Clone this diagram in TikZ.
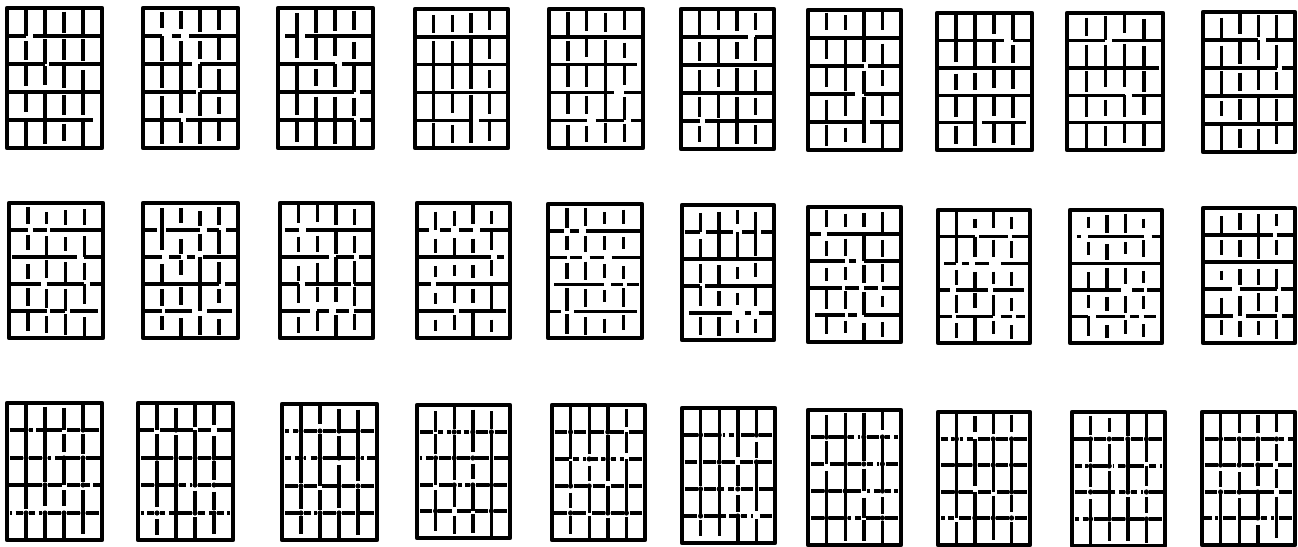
\documentclass[tikz,border=0pt]{standalone}
\tikzset{
  frame/.style={line width=4.2pt, line join=round, line cap=round},
  wall/.style={line width=3.4pt, line cap=butt},
  knot/.style={fill=black},
}
% Row-1 type: solid horizontals, vertical bars with small gaps
\newcommand\brickA[5]{%
 \pgfmathsetseed{#5}%
 \begin{scope}[shift={(#1,#2)}]
  \pgfmathsetmacro\cw{#3/5}\pgfmathsetmacro\rh{#4/5}
  \foreach \r in {1,...,4}{
    \foreach \c in {0,...,4}{
      \pgfmathsetmacro\ga{rnd<0.1 ? 4+6*rnd : 0}
      \pgfmathsetmacro\gb{rnd<0.06 ? 4+6*rnd : 0}
      \draw[wall] ({\c*\cw+\ga},{\r*\rh}) -- ({(\c+1)*\cw-\gb},{\r*\rh});
  }}
  \foreach \r in {0,...,4}{
    \foreach \c in {1,...,4}{
      \pgfmathsetmacro\ga{rnd<0.45 ? 0 : 2+4*rnd}
      \pgfmathsetmacro\gb{rnd<0.3 ? 0 : 3+5*rnd}
      \draw[wall] ({\c*\cw},{\r*\rh+\ga}) -- ({\c*\cw},{(\r+1)*\rh-\gb});
  }}
  \draw[frame] (0,0) rectangle (#3,#4);
 \end{scope}}
% Row-2 type: mostly solid horizontals with some gaps, shorter bars
\newcommand\brickB[5]{%
 \pgfmathsetseed{#5}%
 \begin{scope}[shift={(#1,#2)}]
  \pgfmathsetmacro\cw{#3/5}\pgfmathsetmacro\rh{#4/5}
  \foreach \r in {1,...,4}{
    \foreach \c in {0,...,4}{
      \pgfmathsetmacro\ga{rnd<0.25 ? 3+5*rnd : 0}
      \pgfmathsetmacro\gb{rnd<0.25 ? 3+5*rnd : 0}
      \draw[wall] ({\c*\cw+\ga},{\r*\rh}) -- ({(\c+1)*\cw-\gb},{\r*\rh});
  }}
  \foreach \r in {0,...,4}{
    \foreach \c in {1,...,4}{
      \pgfmathsetmacro\ga{rnd<0.2 ? 0 : 3+6*rnd}
      \pgfmathsetmacro\gb{rnd<0.2 ? 0 : 3+6*rnd}
      \draw[wall] ({\c*\cw},{\r*\rh+\ga}) -- ({\c*\cw},{(\r+1)*\rh-\gb});
  }}
  \draw[frame] (0,0) rectangle (#3,#4);
 \end{scope}}
% Row-3 type: dashed horizontals with dots, longer verticals
\newcommand\brickC[5]{%
 \pgfmathsetseed{#5}%
 \begin{scope}[shift={(#1,#2)}]
  \pgfmathsetmacro\cw{#3/5}\pgfmathsetmacro\rh{#4/5}
  \foreach \r in {1,...,4}{
    \pgfmathsetmacro\yy{round(\r*\rh)}
    \foreach \c in {0,...,4}{
      \pgfmathsetmacro\ga{2+1.5*rnd}
      \pgfmathsetmacro\gb{2+1.5*rnd}
      \pgfmathsetmacro\splitpt{\c*\cw+0.35*\cw+0.3*\cw*rnd}
      \pgfmathsetmacro\mg{rnd<0.25 ? 3+1.5*rnd : 0}
      \draw[wall] ({\c*\cw+\ga},\yy) -- ({\splitpt-\mg/2},\yy);
      \draw[wall] ({\splitpt+\mg/2},\yy) -- ({(\c+1)*\cw-\gb},\yy);
    }
    \foreach \c in {1,...,4}{
      \pgfmathsetmacro\dd{rnd<0.75 ? 2.6 : 0.01}
      \fill[knot] ({\c*\cw},\yy) circle[radius=\dd pt];
    }
  }
  \foreach \r in {0,...,4}{
    \foreach \c in {1,...,4}{
      \pgfmathsetmacro\ga{rnd<0.55 ? 0 : 2+5*rnd}
      \pgfmathsetmacro\gb{rnd<0.55 ? 0 : 2+5*rnd}
      \draw[wall] ({\c*\cw},{\r*\rh+\ga}) -- ({\c*\cw},{(\r+1)*\rh-\gb});
  }}
  \draw[frame] (0,0) rectangle (#3,#4);
 \end{scope}}
\begin{document}
\begin{tikzpicture}[x=1pt,y=-1pt]
\fill[white] (0,0) rectangle (1298,546);
\useasboundingbox (0,0) rectangle (1298,546);
% row 1
\brickA{7}{8}{95}{140}{11}
\brickA{143}{8}{95}{140}{12}
\brickA{278}{8}{95}{140}{13}
\brickA{415}{9}{93}{139}{14}
\brickA{549}{9}{94}{139}{15}
\brickA{681}{9}{93}{140}{16}
\brickA{808}{10}{93}{140}{17}
\brickA{937}{13}{95}{137}{18}
\brickA{1067}{13}{96}{137}{19}
\brickA{1203}{12}{92}{140}{20}
% row 2
\brickB{9}{203}{94}{135}{21}
\brickB{143}{203}{95}{135}{22}
\brickB{280}{203}{93}{135}{23}
\brickB{417}{203}{93}{135}{24}
\brickB{548}{204}{94}{134}{25}
\brickB{682}{205}{92}{135}{26}
\brickB{808}{207}{93}{135}{27}
\brickB{938}{210}{92}{133}{28}
\brickB{1070}{210}{92}{133}{29}
\brickB{1203}{208}{92}{135}{30}
% row 3
\brickC{7}{403}{95}{137}{31}
\brickC{138}{403}{95}{137}{32}
\brickC{282}{404}{95}{136}{33}
\brickC{417}{405}{93}{133}{34}
\brickC{552}{405}{93}{135}{35}
\brickC{682}{408}{93}{135}{36}
\brickC{808}{410}{93}{135}{37}
\brickC{938}{412}{92}{133}{38}
\brickC{1072}{412}{93}{134}{39}
\brickC{1202}{412}{93}{133}{40}
\end{tikzpicture}
\end{document}
